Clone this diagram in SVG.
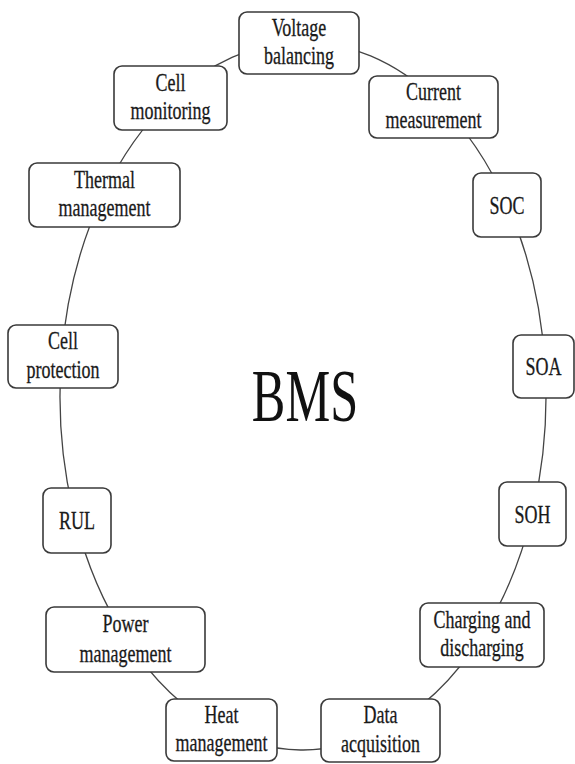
<svg xmlns="http://www.w3.org/2000/svg" width="575" height="764" viewBox="0 0 575 764">
<style>
.box{fill:#fff;stroke:#3a3a3a;stroke-width:1.6}
.lbl{font-family:"Liberation Serif","Times New Roman",serif;font-size:25px;fill:#1a1a1a;stroke:#1a1a1a;stroke-width:0.3;text-anchor:middle}
.big{font-family:"Liberation Serif","Times New Roman",serif;font-size:74px;fill:#111;text-anchor:middle}
.edge{fill:none;stroke:#444;stroke-width:1.3}
</style>
<rect width="575" height="764" fill="#fff"/>
<g id="connectors">
<path class="edge" d="M298.8,42.05 A243,354 0 0 1 436.4,100.1"/>
<path class="edge" d="M436.4,100.1 A243,354 0 0 1 507.4,204.8"/>
<path class="edge" d="M507.4,204.8 A243,354 0 0 1 545.1,365.8"/>
<path class="edge" d="M545.1,365.8 A243,354 0 0 1 532.1,514.2"/>
<path class="edge" d="M532.1,514.2 A243,354 0 0 1 482.2,635.2"/>
<path class="edge" d="M482.2,635.2 A243,354 0 0 1 380.1,731.7"/>
<path class="edge" d="M380.1,731.7 A243,354 0 0 1 221.1,729.3"/>
<path class="edge" d="M221.1,729.3 A243,354 0 0 1 125.9,638.3"/>
<path class="edge" d="M125.9,638.3 A243,354 0 0 1 75.5,520.5"/>
<path class="edge" d="M75.5,520.5 A243,354 0 0 1 61.6,355.9"/>
<path class="edge" d="M61.6,355.9 A243,354 0 0 1 103.2,194.5"/>
<path class="edge" d="M103.2,194.5 A243,354 0 0 1 170.7,99.1"/>
<path class="edge" d="M170.7,99.1 A243,354 0 0 1 298.8,42.05"/>
</g>
<g id="voltage-balancing"><rect class="box" x="239" y="12" width="120" height="62" rx="8"/>
<text class="lbl" transform="translate(299,35.5) scale(0.72,1)">Voltage</text>
<text class="lbl" transform="translate(299,64) scale(0.72,1)">balancing</text></g>
<g id="current-measurement"><rect class="box" x="369" y="76" width="129" height="62" rx="8"/>
<text class="lbl" transform="translate(433.5,99.5) scale(0.72,1)">Current</text>
<text class="lbl" transform="translate(433.5,128) scale(0.72,1)">measurement</text></g>
<g id="soc"><rect class="box" x="473" y="173" width="68" height="64" rx="8"/>
<text class="lbl" transform="translate(507,213.5) scale(0.72,1)">SOC</text></g>
<g id="soa"><rect class="box" x="513" y="335" width="61" height="63" rx="8"/>
<text class="lbl" transform="translate(543.5,375) scale(0.72,1)">SOA</text></g>
<g id="soh"><rect class="box" x="499" y="482" width="67" height="64" rx="8"/>
<text class="lbl" transform="translate(532.5,522.5) scale(0.72,1)">SOH</text></g>
<g id="charging"><rect class="box" x="420" y="603" width="124" height="64" rx="8"/>
<text class="lbl" transform="translate(482,627.5) scale(0.72,1)">Charging and</text>
<text class="lbl" transform="translate(482,656) scale(0.72,1)">discharging</text></g>
<g id="data-acquisition"><rect class="box" x="321" y="699" width="119" height="63" rx="8"/>
<text class="lbl" transform="translate(380.5,723) scale(0.72,1)">Data</text>
<text class="lbl" transform="translate(380.5,752) scale(0.72,1)">acquisition</text></g>
<g id="heat-management"><rect class="box" x="166" y="699" width="111" height="62" rx="8"/>
<text class="lbl" transform="translate(221.5,722.5) scale(0.72,1)">Heat</text>
<text class="lbl" transform="translate(221.5,751) scale(0.72,1)">management</text></g>
<g id="power-management"><rect class="box" x="46" y="607" width="159" height="65" rx="8"/>
<text class="lbl" transform="translate(125.5,632) scale(0.72,1)">Power</text>
<text class="lbl" transform="translate(125.5,662) scale(0.72,1)">management</text></g>
<g id="rul"><rect class="box" x="43" y="488" width="68" height="65" rx="8"/>
<text class="lbl" transform="translate(77,529) scale(0.72,1)">RUL</text></g>
<g id="cell-protection"><rect class="box" x="8" y="325" width="110" height="63" rx="8"/>
<text class="lbl" transform="translate(63,349) scale(0.72,1)">Cell</text>
<text class="lbl" transform="translate(63,378) scale(0.72,1)">protection</text></g>
<g id="thermal-management"><rect class="box" x="29" y="163" width="151" height="64" rx="8"/>
<text class="lbl" transform="translate(104.5,187.5) scale(0.72,1)">Thermal</text>
<text class="lbl" transform="translate(104.5,216) scale(0.72,1)">management</text></g>
<g id="cell-monitoring"><rect class="box" x="114" y="66" width="113" height="64" rx="8"/>
<text class="lbl" transform="translate(170.5,90.5) scale(0.72,1)">Cell</text>
<text class="lbl" transform="translate(170.5,119) scale(0.72,1)">monitoring</text></g>
<g id="bms"><text class="big" transform="translate(305,421) scale(0.68,1)">BMS</text></g>
</svg>
